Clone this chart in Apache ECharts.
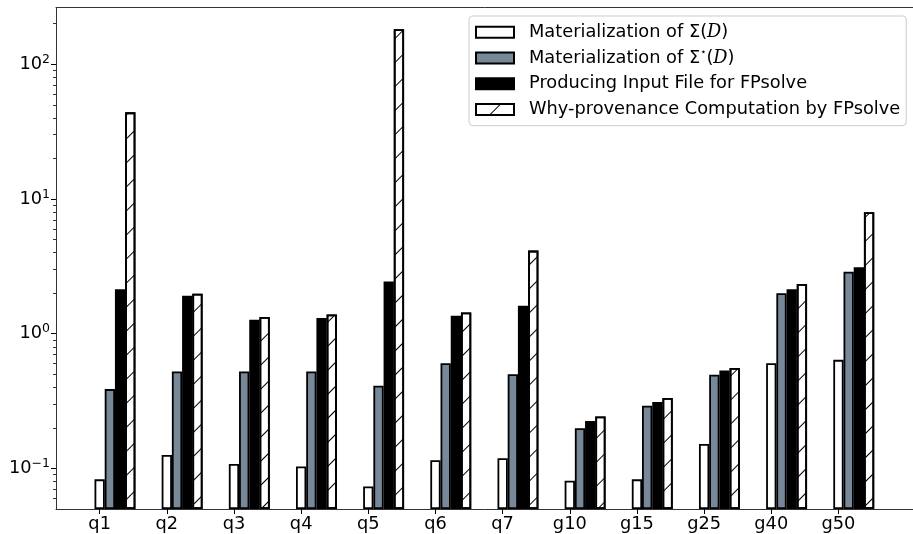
<!DOCTYPE html>
<html>
<head>
<meta charset="utf-8">
<script src="https://cdn.jsdelivr.net/npm/echarts@6/dist/echarts.min.js"></script>
<style>html,body{margin:0;padding:0;background:#fff;}#c{width:913px;height:534px;}</style>
</head>
<body>
<div id="c"></div>
<script>
const categories = ['q1','q2','q3','q4','q5','q6','q7','g10','g15','g25','g40','g50'];
const matSigma     = [0.083, 0.126, 0.108, 0.1035, 0.0736, 0.115, 0.119, 0.081, 0.083, 0.152, 0.605, 0.64];
const matSigmaStar = [0.388, 0.524, 0.524, 0.524, 0.411, 0.605, 0.501, 0.199, 0.292, 0.496, 2.0, 2.89];
const inputFile    = [2.14, 1.91, 1.27, 1.31, 2.44, 1.36, 1.61, 0.225, 0.311, 0.533, 2.14, 3.12];
const whyProv      = [44.0, 1.98, 1.33, 1.39, 182, 1.44, 4.14, 0.243, 0.334, 0.556, 2.34, 7.98];
const seriesNames = [
  'Materialization of Σ(D)',
  'Materialization of Σ*(D)',
  'Producing Input File for FPsolve',
  'Why-provenance Computation by FPsolve'
];
const yMajorTicks = [0.1, 1, 10, 100];
const yMinorTicks = [0.06,0.07,0.08,0.09,0.2,0.3,0.4,0.5,0.6,0.7,0.8,0.9,2,3,4,5,6,7,8,9,20,30,40,50,60,70,80,90,200];

const FONT = 'DejaVu Sans';
const AXIS_COLOR = '#333';
const X_MIN = -0.65, X_MAX = 12.11, BAR_STEP = 0.152;
const catIdx = categories.map((c, i) => i);

const values = [matSigma, matSigmaStar, inputFile, whyProv];
const styles = [
  { color: '#ffffff' },
  { color: '#778899' },
  { color: '#000000' },
  { color: '#ffffff', decal: { symbol: 'rect', symbolSize: 1, dashArrayX: [1, 0], dashArrayY: [1, 16], rotation: -Math.PI / 4, color: '#000' } }
];

const xAxes = [0, 1, 2, 3].map(k => ({
  type: 'value',
  gridIndex: 0,
  position: 'bottom',
  show: k === 0,
  min: X_MIN - k * BAR_STEP,
  max: X_MAX - k * BAR_STEP,
  splitLine: { show: false },
  axisLine: { show: true, onZero: false, lineStyle: { color: AXIS_COLOR, width: 1 } },
  axisTick: { show: true, customValues: catIdx, length: 5, lineStyle: { color: '#000', width: 1 } },
  axisLabel: {
    customValues: catIdx,
    formatter: v => categories[Math.round(v)] || '',
    fontFamily: FONT, fontSize: 17.8, color: '#000', margin: 6
  }
}));
// top frame line
xAxes.push({
  type: 'value', gridIndex: 0, position: 'top', min: X_MIN, max: X_MAX,
  splitLine: { show: false },
  axisLine: { show: true, onZero: false, lineStyle: { color: AXIS_COLOR, width: 1 } },
  axisTick: { show: false }, axisLabel: { show: false }
});

const series = values.map((vals, k) => ({
  name: seriesNames[k],
  type: 'bar',
  xAxisIndex: k,
  yAxisIndex: 0,
  barWidth: 10.3,
  data: vals.map((v, i) => [i, v]),
  itemStyle: Object.assign({ borderColor: '#000', borderWidth: 1.8 }, styles[k]),
  emphasis: { disabled: true }
}));

const legendFmt = name => {
  const i = seriesNames.indexOf(name);
  if (i === 0) return 'Materialization of Σ({d|D})';
  if (i === 1) return 'Materialization of Σ{s|⋆}({d|D})';
  return name;
};

const chart = echarts.init(document.getElementById('c'), null, { renderer: 'canvas' });
chart.setOption({
  animation: false,
  backgroundColor: '#fff',
  grid: { left: 56, right: -7, top: 7.5, bottom: 25, show: false },
  xAxis: xAxes,
  yAxis: [
    {
      type: 'log', logBase: 10, min: 0.05, max: 264, startValue: 0.05,
      position: 'left',
      splitLine: { show: false },
      axisLine: { show: true, onZero: false, lineStyle: { color: AXIS_COLOR, width: 1 } },
      axisTick: { show: true, customValues: yMajorTicks, length: 5, lineStyle: { color: '#000', width: 1 } },
      axisLabel: {
        customValues: yMajorTicks,
        formatter: v => '10{s|' + String(Math.round(Math.log10(v))).replace('-', '−') + '}',
        fontFamily: FONT, fontSize: 17.8, color: '#000', margin: 6, lineHeight: 22,
        rich: { s: { fontFamily: FONT, fontSize: 12.5, color: '#000', verticalAlign: 'top', lineHeight: 14 } }
      }
    },
    {
      type: 'log', logBase: 10, min: 0.05, max: 264,
      position: 'left',
      splitLine: { show: false },
      axisLine: { show: false, onZero: false },
      axisLabel: { show: false },
      axisTick: { show: true, customValues: yMinorTicks, length: 3, lineStyle: { color: '#000', width: 0.8 } }
    }
  ],
  legend: {
    orient: 'vertical',
    left: 469, top: 16,
    padding: [5.8, 6, 5.8, 6],
    itemWidth: 38, itemHeight: 11, itemGap: 4.7,
    backgroundColor: 'rgba(255,255,255,0.85)',
    borderColor: '#cccccc', borderWidth: 1, borderRadius: 4,
    icon: 'rect',
    formatter: legendFmt,
    textStyle: {
      fontFamily: FONT, fontSize: 17.8, color: '#000', lineHeight: 21, padding: [0, 0, 0, 10],
      rich: {
        d: { fontFamily: 'DejaVu Serif', fontStyle: 'italic', fontSize: 17.8, color: '#000', lineHeight: 21 },
        s: { fontFamily: FONT, fontSize: 10, color: '#000', verticalAlign: 'top', lineHeight: 14 }
      }
    },
    data: seriesNames
  },
  series: series
});
</script>
</body>
</html>
